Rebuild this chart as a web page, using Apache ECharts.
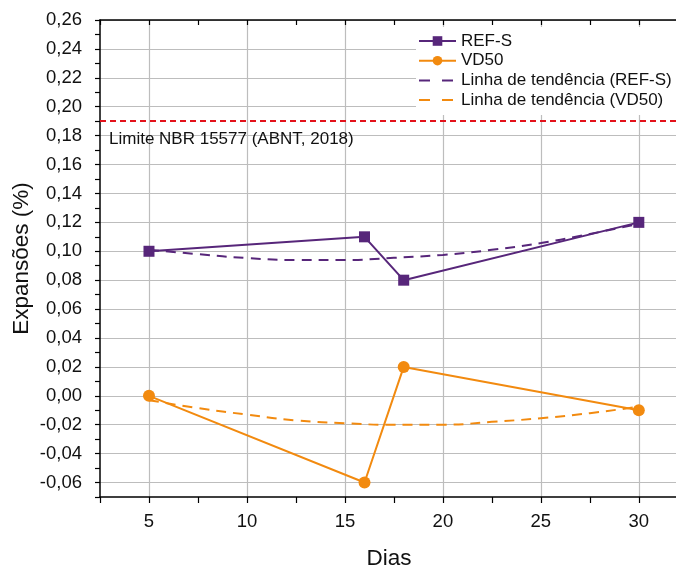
<!DOCTYPE html>
<html><head><meta charset="utf-8">
<script src="https://cdn.jsdelivr.net/npm/echarts@6/dist/echarts.min.js"></script>
<style>html,body{margin:0;padding:0;background:#fff}#c{width:676px;height:569px}</style>
</head><body><div id="c"></div>
<script>
var dias = [5, 16, 18, 30];
var refS = [0.10, 0.11, 0.08, 0.12];
var vd50 = [0.00, -0.06, 0.02, -0.01];
var trendX = [5, 7.5, 10, 12.5, 15, 17.5, 20, 22.5, 25, 27.5, 30];
var trendRefS = [0.101, 0.098, 0.0953, 0.094, 0.094, 0.0955, 0.0975, 0.101, 0.1057, 0.112, 0.119];
var trendVD50 = [-0.003, -0.0085, -0.013, -0.017, -0.019, -0.020, -0.020, -0.018, -0.0155, -0.012, -0.0075];
var limite = 0.19;
var limiteLabel = 'Limite NBR 15577 (ABNT, 2018)';
var names = ['REF-S', 'VD50', 'Linha de tendência (REF-S)', 'Linha de tendência (VD50)'];

var PURPLE = '#57267a', ORANGE = '#f28a0f', RED = '#e3121b';
function pairs(xs, ys) { return xs.map(function (x, i) { return [x, ys[i]]; }); }
var FONT = 'Liberation Sans, Arial, sans-serif';
var chart = echarts.init(document.getElementById('c'));
chart.setOption({
  animation: false,
  backgroundColor: '#fff',
  grid: { left: 100, top: 20, right: -2, bottom: 72, containLabel: false, outerBoundsMode: 'none' },
  legend: {
    data: [
      { name: names[0] },
      { name: names[1] },
      { name: names[2], itemStyle: { opacity: 0 }, lineStyle: { type: [11, 12] } },
      { name: names[3], itemStyle: { opacity: 0 }, lineStyle: { type: [11, 12] } }
    ],
    orient: 'vertical',
    left: 416, top: 27,
    padding: [5, 5, 6, 2],
    backgroundColor: '#fff',
    itemWidth: 37, itemHeight: 12, itemGap: 1.7,
    textStyle: { fontFamily: FONT, fontSize: 17, lineHeight: 18, color: '#111' }
  },
  xAxis: [{
    type: 'value', min: 2.5, max: 32, interval: 2.5,
    name: 'Dias', nameLocation: 'middle', nameGap: 50, nameMoveOverlap: false,
    nameTextStyle: { fontFamily: FONT, fontSize: 22.5, color: '#111' },
    axisLine: { show: true, onZero: false, lineStyle: { color: '#000', width: 1.5 } },
    axisTick: { show: true, length: 6, lineStyle: { color: '#000', width: 1.2 } },
    axisLabel: { margin: 15, fontFamily: FONT, fontSize: 18.5, color: '#111',
      formatter: function (v) { return (Math.abs(v % 5) < 1e-9) ? String(v) : ''; } },
    splitLine: { show: true, lineStyle: { color: ['rgba(0,0,0,0)', '#bdbdbd'], width: 1.2 } }
  }, {
    type: 'value', position: 'top', min: 2.5, max: 32, interval: 2.5,
    axisLine: { show: true, onZero: false, lineStyle: { color: '#000', width: 1.5 } },
    axisTick: { show: true, inside: true, length: 5, lineStyle: { color: '#000', width: 1.2 } },
    axisLabel: { show: false }, splitLine: { show: false }
  }],
  yAxis: [{
    type: 'value', min: -0.07, max: 0.26, interval: 0.01,
    name: 'Expansões (%)', nameLocation: 'middle', nameGap: 67, nameRotate: 90, nameMoveOverlap: false,
    nameTextStyle: { fontFamily: FONT, fontSize: 22.5, color: '#111' },
    axisLine: { show: true, onZero: false, lineStyle: { color: '#000', width: 1.5 } },
    axisTick: { show: true, length: 5, lineStyle: { color: '#000', width: 1.2 } },
    axisLabel: { margin: 18, fontFamily: FONT, fontSize: 18.5, color: '#111',
      formatter: function (v) {
        var k = Math.round(v * 100);
        if (k % 2 !== 0) return '';
        return (k / 100).toFixed(2).replace('.', ',');
      } },
    splitLine: { show: true, lineStyle: { color: ['rgba(0,0,0,0)', '#bdbdbd'], width: 1.2 } }
  }],
  series: [
    { name: names[2], type: 'line', data: pairs(trendX, trendRefS), smooth: true,
      symbol: 'none', lineStyle: { color: PURPLE, width: 2, type: [10, 7] }, itemStyle: { color: PURPLE }, z: 2 },
    { name: names[3], type: 'line', data: pairs(trendX, trendVD50), smooth: true,
      symbol: 'none', lineStyle: { color: ORANGE, width: 2, type: [10, 7] }, itemStyle: { color: ORANGE }, z: 2 },
    { name: names[0], type: 'line', data: pairs(dias, refS), symbol: 'rect', symbolSize: 11,
      lineStyle: { color: PURPLE, width: 2 }, itemStyle: { color: PURPLE }, z: 3,
      markLine: { silent: true, symbol: 'none',
        lineStyle: { color: RED, width: 2, type: [6, 4] },
        label: { show: true, position: 'insideStartBottom', formatter: limiteLabel,
          fontFamily: FONT, fontSize: 17, color: '#111', distance: [9, 9.5] },
        data: [{ yAxis: limite }] } },
    { name: names[1], type: 'line', data: pairs(dias, vd50), symbol: 'circle', symbolSize: 12,
      lineStyle: { color: ORANGE, width: 2 }, itemStyle: { color: ORANGE }, z: 3 }
  ]
});
</script></body></html>
